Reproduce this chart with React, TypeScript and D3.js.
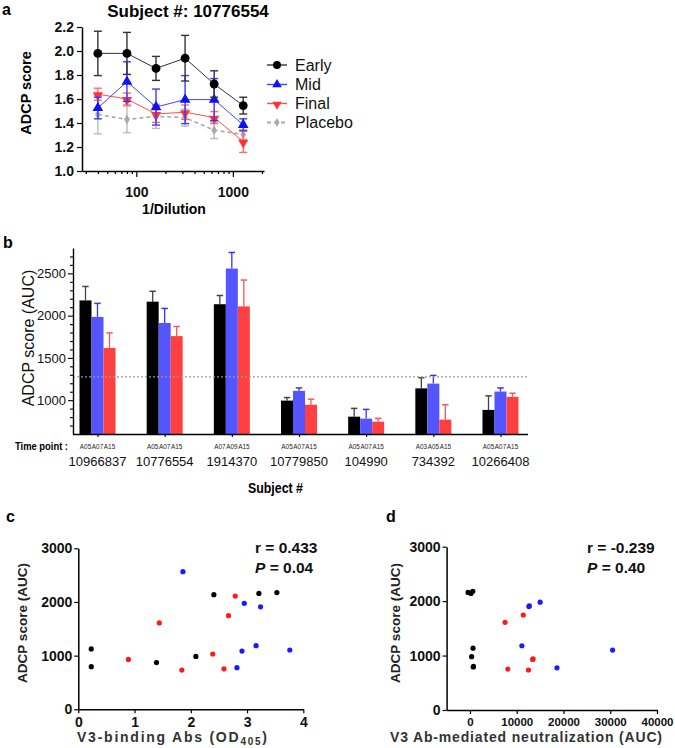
import * as d3 from 'd3';
import React, { useEffect, useRef } from 'react';

// panel a: ADCP score by dilution for subject 10776554
const dilutions = [40, 80, 160, 320, 640, 1280];
const earlyMean = [1.98, 1.98, 1.855, 1.94, 1.725, 1.545];
const earlySd = [0.185, 0.175, 0.1, 0.19, 0.11, 0.07];
const midMean = [1.525, 1.745, 1.533, 1.595, 1.595, 1.385];
const midSd = [0.09, 0.165, 0.15, 0.2, 0.175, 0.05];
const finalMean = [1.64, 1.6, 1.475, 1.49, 1.445, 1.245];
const finalSd = [0.05, 0.05, 0.07, 0.06, 0.05, 0.09];
const placeboMean = [1.47, 1.43, 1.455, 1.445, 1.34, 1.305];
const placeboSd = [0.16, 0.11, 0.1, 0.07, 0.07, 0.04];
const aYTicks = [1.0, 1.2, 1.4, 1.6, 1.8, 2.0, 2.2];
const aXMajor = [100, 1000];
const aXMinor = [30, 40, 50, 60, 70, 80, 90, 200, 300, 400, 500, 600, 700, 800, 900, 2000];

// panel b: ADCP AUC per subject and time point
const subjects = ['10966837', '10776554', '1914370', '10779850', '104990', '734392', '10266408'];
const timePoints = [
  ['A05', 'A07', 'A15'],
  ['A05', 'A07', 'A15'],
  ['A07', 'A09', 'A15'],
  ['A05', 'A07', 'A15'],
  ['A05', 'A07', 'A15'],
  ['A03', 'A05', 'A15'],
  ['A05', 'A07', 'A15'],
];
const firstAuc = [2180, 2165, 2135, 995, 805, 1140, 885];
const firstSd = [165, 123, 103, 36, 98, 126, 166];
const secondAuc = [1985, 1913, 2557, 1110, 782, 1196, 1102];
const secondSd = [160, 172, 190, 35, 109, 97, 43];
const thirdAuc = [1617, 1758, 2109, 946, 746, 770, 1039];
const thirdSd = [179, 113, 312, 66, 39, 176, 43];
const placeboLevel = 1275;
const bMajorTicks = [1000, 1500, 2000, 2500];

// panel c: ADCP vs V3-binding Abs
const cBlackX = [0.23, 0.23, 1.39, 2.09, 2.41, 3.21, 3.53];
const cBlackY = [795, 1125, 870, 985, 2135, 2160, 2175];
const cBlueX = [1.86, 2.95, 3.24, 3.16, 2.91, 3.76, 2.82];
const cBlueY = [2565, 1975, 1910, 1185, 1085, 1105, 775];
const cRedX = [0.89, 1.44, 1.84, 2.39, 2.59, 2.67, 2.79];
const cRedY = [930, 1610, 730, 1030, 755, 1745, 2110];

// panel d: ADCP vs V3 Ab-mediated neutralization
const dBlackX = [-400, 200, 600, 650, 350, 750, 700];
const dBlackY = [2160, 2140, 2180, 1135, 980, 800, 790];
const dBlueX = [12700, 12600, 15000, 11100, 30500, 18600];
const dBlueY = [1915, 1900, 1980, 1180, 1100, 775];
const dRedX = [7500, 11400, 13400, 13500, 8100, 12500];
const dRedY = [1610, 1745, 930, 940, 752, 735];

const FONT = 'Liberation Sans, Arial, Helvetica, sans-serif';

type Sel = d3.Selection<SVGGElement, unknown, null, undefined>;

const styleAxis = (g: Sel, size: number, weight = 'bold', width = 1.5) => {
  g.attr('font-family', FONT).attr('font-size', size).attr('font-weight', weight);
  g.selectAll('text').attr('fill', '#111');
  g.selectAll('path.domain').attr('stroke', '#000').attr('stroke-width', width);
  g.selectAll('.tick line').attr('stroke', '#000').attr('stroke-width', width * 0.8);
};

const drawA = (root: d3.Selection<SVGSVGElement, unknown, null, undefined>) => {
  const g = root.append('g');
  const x = d3.scaleLog().domain([27.4, 2100]).range([82, 264]);
  const y = d3.scaleLinear().domain([1.0, 2.2]).range([171, 27]);

  g.append('text').attr('x', 2).attr('y', 15).attr('font-family', FONT)
    .attr('font-size', 16).attr('font-weight', 'bold').text('a');
  g.append('text').attr('x', 188).attr('y', 17).attr('text-anchor', 'middle')
    .attr('font-family', FONT).attr('font-size', 17).attr('font-weight', 'bold')
    .text('Subject #: 10776554');

  const yAx = g.append('g').attr('transform', 'translate(82,0)')
    .call(d3.axisLeft(y).tickValues(aYTicks).tickFormat(d3.format('.1f')).tickSize(5).tickSizeOuter(0).tickPadding(3));
  styleAxis(yAx, 14);

  const xAx = g.append('g').attr('transform', 'translate(0,171)')
    .call(d3.axisBottom(x).tickValues([...aXMinor, ...aXMajor])
      .tickFormat(d => (aXMajor.includes(+d) ? String(d) : '')).tickSize(6).tickSizeOuter(0));
  styleAxis(xAx, 14);
  xAx.selectAll<SVGLineElement, number>('.tick line').attr('y2', d => (aXMajor.includes(d) ? 6 : 3));
  xAx.selectAll('.tick text').attr('y', 16);

  g.append('text').attr('transform', 'translate(31,93) rotate(-90)').attr('text-anchor', 'middle')
    .attr('font-family', FONT).attr('font-size', 14.5).attr('font-weight', 'bold').text('ADCP score');
  g.append('text').attr('x', 174).attr('y', 214).attr('text-anchor', 'middle')
    .attr('font-family', FONT).attr('font-size', 14).attr('font-weight', 'bold').text('1/Dilution');

  const series = [
    { name: 'Placebo', mean: placeboMean, sd: placeboSd, line: '#aaa', err: '#bbb', fill: '#aaa', sym: d3.symbolDiamond, size: 28, rot: 0, dash: '4,3', lw: 1.6 },
    { name: 'Final', mean: finalMean, sd: finalSd, line: '#ff5050', err: '#ff6a6a', fill: '#ff3333', sym: d3.symbolTriangle, size: 45, rot: 180, dash: null, lw: 1 },
    { name: 'Mid', mean: midMean, sd: midSd, line: '#4444ff', err: '#3a3aff', fill: '#1010ff', sym: d3.symbolTriangle, size: 50, rot: 0, dash: null, lw: 1 },
    { name: 'Early', mean: earlyMean, sd: earlySd, line: '#333', err: '#333', fill: '#000', sym: d3.symbolCircle, size: 62, rot: 0, dash: null, lw: 1 },
  ];

  const line = d3.line<number>().x((_d, i) => x(dilutions[i])).y(d => y(d));

  series.forEach(s => {
    const sg = g.append('g');
    dilutions.forEach((dl, i) => {
      const cx = x(dl);
      const lo = y(s.mean[i] - s.sd[i]);
      const hi = y(s.mean[i] + s.sd[i]);
      sg.append('line').attr('x1', cx).attr('x2', cx).attr('y1', lo).attr('y2', hi).attr('stroke', s.err).attr('stroke-width', 1.4);
      [lo, hi].forEach(yy => sg.append('line').attr('x1', cx - 4).attr('x2', cx + 4).attr('y1', yy).attr('y2', yy)
        .attr('stroke', s.err).attr('stroke-width', 1.4));
    });
    sg.append('path').attr('d', line(s.mean)).attr('fill', 'none').attr('stroke', s.line)
      .attr('stroke-width', s.lw).attr('stroke-dasharray', s.dash);
    sg.selectAll('path.pt').data(s.mean).enter().append('path').attr('class', 'pt')
      .attr('d', d3.symbol().type(s.sym).size(s.size)())
      .attr('transform', (d, i) => `translate(${x(dilutions[i])},${y(d) + (s.rot ? 1 : 0)}) rotate(${s.rot})`)
      .attr('fill', s.fill);
  });

  // legend
  const legendOrder = ['Early', 'Mid', 'Final', 'Placebo'];
  const legendY = [65, 84.5, 103.5, 122.5];
  legendOrder.forEach((name, i) => {
    const s = series.find(v => v.name === name)!;
    const ly = legendY[i];
    g.append('line').attr('x1', 267).attr('x2', 287).attr('y1', ly).attr('y2', ly)
      .attr('stroke', s.line).attr('stroke-width', s.lw + 0.4).attr('stroke-dasharray', s.dash);
    g.append('path').attr('d', d3.symbol().type(s.sym).size(s.size * 0.8)())
      .attr('transform', `translate(277,${ly + (s.rot ? 1 : 0)}) rotate(${s.rot})`).attr('fill', s.fill);
    g.append('text').attr('x', 295).attr('y', ly + 5.5).attr('font-family', FONT).attr('font-size', 16)
      .attr('fill', '#111').text(name);
  });
};

const drawB = (root: d3.Selection<SVGSVGElement, unknown, null, undefined>) => {
  const g = root.append('g');
  const xg = d3.scalePoint<string>().domain(subjects).range([97.5, 500.5]);
  const xs = d3.scaleBand<number>().domain([0, 1, 2]).range([-18, 18]);
  const y = d3.scaleLinear().domain([600, 2800]).range([434, 248]);

  g.append('text').attr('x', 3).attr('y', 248).attr('font-family', FONT)
    .attr('font-size', 16).attr('font-weight', 'bold').text('b');

  const bars = [
    { vals: firstAuc, sd: firstSd, fill: '#000', err: '#444' },
    { vals: secondAuc, sd: secondSd, fill: '#5555ff', err: '#3333ff' },
    { vals: thirdAuc, sd: thirdSd, fill: '#ff4040', err: '#ff5555' },
  ];

  bars.forEach((b, k) => {
    subjects.forEach((sub, i) => {
      const x0 = xg(sub)! + xs(k)!;
      const w = xs.bandwidth();
      const cx = x0 + w / 2;
      const top = y(b.vals[i] + b.sd[i]);
      g.append('line').attr('x1', cx).attr('x2', cx).attr('y1', y(b.vals[i])).attr('y2', top)
        .attr('stroke', b.err).attr('stroke-width', 1.3);
      g.append('line').attr('x1', cx - 3.2).attr('x2', cx + 3.2).attr('y1', top).attr('y2', top)
        .attr('stroke', b.err).attr('stroke-width', 1.5);
      g.append('rect').attr('x', x0).attr('width', w).attr('y', y(b.vals[i]))
        .attr('height', y(600) - y(b.vals[i])).attr('fill', b.fill);
      g.append('text').attr('x', cx).attr('y', 449).attr('text-anchor', 'middle')
        .attr('font-family', FONT).attr('font-size', 6.4).attr('fill', '#222').text(timePoints[i][k]);
    });
  });

  g.append('line').attr('x1', 73).attr('x2', 528).attr('y1', y(placeboLevel)).attr('y2', y(placeboLevel))
    .attr('stroke', '#999').attr('stroke-width', 1.2).attr('stroke-dasharray', '2,2');

  const yAx = g.append('g').attr('transform', 'translate(73,0)')
    .call(d3.axisLeft(y).tickValues(d3.range(700, 2701, 100))
      .tickFormat(d => (bMajorTicks.includes(+d) ? String(d) : '')).tickSize(5).tickSizeOuter(0).tickPadding(2));
  styleAxis(yAx, 13, 'normal', 1.4);
  yAx.selectAll<SVGLineElement, number>('.tick line').attr('x2', d => (bMajorTicks.includes(d) ? -5 : -3));

  const xAx = g.append('g').attr('transform', 'translate(0,434)')
    .call(d3.axisBottom(xg).tickSize(3).tickFormat(() => '').tickSizeOuter(0));
  styleAxis(xAx, 10, 'normal', 1.4);
  xAx.select('path.domain').attr('d', 'M73,0.5H528');

  subjects.forEach(sub => {
    g.append('text').attr('x', xg(sub)!).attr('y', 466).attr('text-anchor', 'middle')
      .attr('font-family', FONT).attr('font-size', 13).attr('fill', '#111').text(sub);
  });

  g.append('text').attr('x', 15).attr('y', 450).attr('font-family', FONT).attr('font-size', 11.5)
    .attr('font-weight', 'bold').attr('textLength', 53).attr('lengthAdjust', 'spacingAndGlyphs').text('Time point :');
  g.append('text').attr('x', 248).attr('y', 493).attr('font-family', FONT).attr('font-size', 14)
    .attr('font-weight', 'bold').attr('textLength', 55).attr('lengthAdjust', 'spacingAndGlyphs').text('Subject #');
  g.append('text').attr('transform', 'translate(34,338) rotate(-90)').attr('text-anchor', 'middle')
    .attr('font-family', FONT).attr('font-size', 16).attr('fill', '#111').text('ADCP score (AUC)');
};

type ScatterOpts = {
  label: string;
  labelX: number;
  x: d3.ScaleLinear<number, number>;
  y: d3.ScaleLinear<number, number>;
  xTicks: number[];
  xTickSize: number;
  points: { xs: number[]; ys: number[]; color: string }[];
  rText: string;
  pText: string;
  statX: number;
  yTitleX: number;
  xTitle: (t: d3.Selection<SVGTextElement, unknown, null, undefined>) => void;
  xTitleX: number;
  xTitleLen: number;
};

const drawScatter = (root: d3.Selection<SVGSVGElement, unknown, null, undefined>, o: ScatterOpts) => {
  const g = root.append('g');
  const [x0] = o.x.range();
  const [yb] = o.y.range();

  g.append('text').attr('x', o.labelX).attr('y', 522).attr('font-family', FONT)
    .attr('font-size', 16).attr('font-weight', 'bold').text(o.label);

  const yAx = g.append('g').attr('transform', `translate(${x0},0)`)
    .call(d3.axisLeft(o.y).tickValues([0, 1000, 2000, 3000]).tickFormat(d3.format('d'))
      .tickSize(4).tickSizeOuter(0).tickPadding(2));
  styleAxis(yAx, 14, 'bold', 1.5);

  const xAx = g.append('g').attr('transform', `translate(0,${yb})`)
    .call(d3.axisBottom(o.x).tickValues(o.xTicks).tickFormat(d3.format('d')).tickSize(4).tickSizeOuter(0).tickPadding(4));
  styleAxis(xAx, o.xTickSize, 'bold', 1.5);

  o.points.forEach(p => {
    g.selectAll(null).data(p.xs).enter().append('circle')
      .attr('cx', d => o.x(d)).attr('cy', (_d, i) => o.y(p.ys[i])).attr('r', 2.6).attr('fill', p.color);
  });

  g.append('text').attr('x', o.statX).attr('y', 553).attr('font-family', FONT).attr('font-size', 15.5)
    .attr('font-weight', 'bold').attr('fill', '#111').text(o.rText);
  const pt = g.append('text').attr('x', o.statX).attr('y', 573).attr('font-family', FONT).attr('font-size', 15.5)
    .attr('font-weight', 'bold').attr('fill', '#111');
  pt.append('tspan').attr('font-style', 'italic').text('P');
  pt.append('tspan').text(o.pText);

  g.append('text').attr('transform', `translate(${o.yTitleX},623) rotate(-90)`).attr('text-anchor', 'middle')
    .attr('font-family', FONT).attr('font-size', 13.5).attr('font-weight', 'bold').attr('fill', '#222').text('ADCP score (AUC)');
  const xt = g.append('text').attr('x', o.xTitleX).attr('y', 742).attr('text-anchor', 'middle')
    .attr('font-family', FONT).attr('font-size', 14).attr('font-weight', 'bold').attr('fill', '#333')
    .attr('textLength', o.xTitleLen).attr('lengthAdjust', 'spacing');
  o.xTitle(xt);
};

const App = () => {
  const ref = useRef<SVGSVGElement | null>(null);

  useEffect(() => {
    if (!ref.current) return;
    const svg = d3.select(ref.current);
    svg.selectAll('*').remove();

    drawA(svg);
    drawB(svg);

    drawScatter(svg, {
      label: 'c',
      labelX: 6,
      x: d3.scaleLinear().domain([0, 4]).range([78.3, 303.3]),
      y: d3.scaleLinear().domain([0, 3000]).range([709.3, 548.3]),
      xTicks: [0, 1, 2, 3, 4],
      xTickSize: 14,
      points: [
        { xs: cBlackX, ys: cBlackY, color: '#000' },
        { xs: cBlueX, ys: cBlueY, color: '#1a1aff' },
        { xs: cRedX, ys: cRedY, color: '#ff1a1a' },
      ],
      rText: 'r = 0.433',
      pText: ' = 0.04',
      statX: 255,
      yTitleX: 27,
      xTitleX: 172,
      xTitleLen: 190,
      xTitle: t => {
        t.append('tspan').text('V3-binding Abs (OD');
        t.append('tspan').attr('font-size', 10).attr('dy', 3).text('405');
        t.append('tspan').attr('dy', -3).text(')');
      },
    });

    drawScatter(svg, {
      label: 'd',
      labelX: 386,
      x: d3.scaleLinear().domain([-5000, 40000]).range([446.6, 657]),
      y: d3.scaleLinear().domain([0, 3000]).range([710, 546.7]),
      xTicks: [0, 10000, 20000, 30000, 40000],
      xTickSize: 11.5,
      points: [
        { xs: dBlackX, ys: dBlackY, color: '#000' },
        { xs: dBlueX, ys: dBlueY, color: '#1a1aff' },
        { xs: dRedX, ys: dRedY, color: '#ff1a1a' },
      ],
      rText: 'r = -0.239',
      pText: ' = 0.40',
      statX: 587,
      yTitleX: 400,
      xTitleX: 526,
      xTitleLen: 272,
      xTitle: t => {
        t.text('V3 Ab-mediated neutralization (AUC)');
      },
    });
  }, []);

  return (
    <svg ref={ref} width={675} height={748}
      style={{ position: 'absolute', left: 0, top: 0, background: '#fff' }} />
  );
};

export default App;
